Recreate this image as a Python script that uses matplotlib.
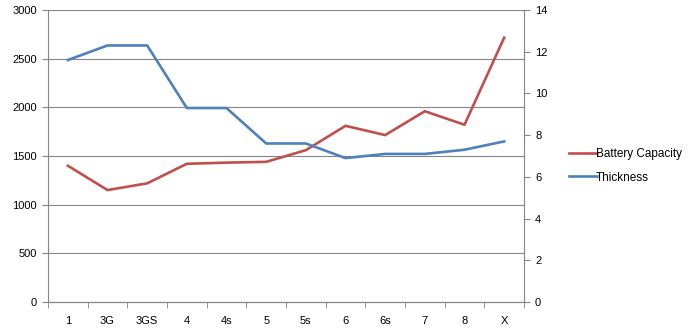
import matplotlib.pyplot as plt
import numpy as np

models = ["1", "3G", "3GS", "4", "4s", "5", "5s", "6", "6s", "7", "8", "X"]
battery = [1400, 1150, 1219, 1420, 1432, 1440, 1560, 1810, 1715, 1960, 1821, 2716]
thickness = [11.6, 12.3, 12.3, 9.3, 9.3, 7.6, 7.6, 6.9, 7.1, 7.1, 7.3, 7.7]

red = "#C0504D"
blue = "#4F81BD"
grey = "#868686"

plt.rcParams['font.family'] = ['Liberation Sans', 'DejaVu Sans']
plt.rcParams['font.size'] = 8

fig = plt.figure(figsize=(6.89, 3.33), dpi=100)
ax = fig.add_axes([48 / 689, 1 - 302 / 333, 476 / 689, 292 / 333])
ax2 = ax.twinx()

x = np.arange(len(models))
l1, = ax.plot(x, battery, color=red, lw=1.9, label="Battery Capacity")
l2, = ax2.plot(x, thickness, color=blue, lw=1.9, label="Thickness")

ax.set_xlim(-0.5, len(models) - 0.5)
ax.set_ylim(0, 3000)
ax.set_yticks(np.arange(0, 3001, 500))
ax2.set_ylim(0, 14)
ax2.set_yticks(np.arange(0, 15, 2))

ax.set_xticks(x)
ax.set_xticklabels(models)
ax.set_xticks(np.arange(-0.5, len(models)), minor=True)
ax.tick_params(axis='x', which='major', length=0, pad=10)
ax.tick_params(axis='x', which='minor', length=4, color=grey, direction='out')
ax.tick_params(axis='y', length=4, color=grey, pad=4)
ax2.tick_params(axis='y', length=4, color=grey, pad=4)

ax.grid(axis='y', color=grey, lw=0.8)
ax.set_axisbelow(True)
for a in (ax, ax2):
    a.spines['top'].set_visible(False)
    for s in ('left', 'right', 'bottom'):
        a.spines[s].set_color(grey)
        a.spines[s].set_linewidth(0.8)
ax2.spines['left'].set_visible(False)
ax.spines['right'].set_visible(False)

fig.legend(handles=[l1, l2], loc='center left', bbox_to_anchor=(558 / 689, 1 - 166 / 333),
           frameon=False, handlelength=2.4, handletextpad=-0.1, labelspacing=0.95,
           fontsize=8.5)

fig.savefig("out.png", dpi=100)
